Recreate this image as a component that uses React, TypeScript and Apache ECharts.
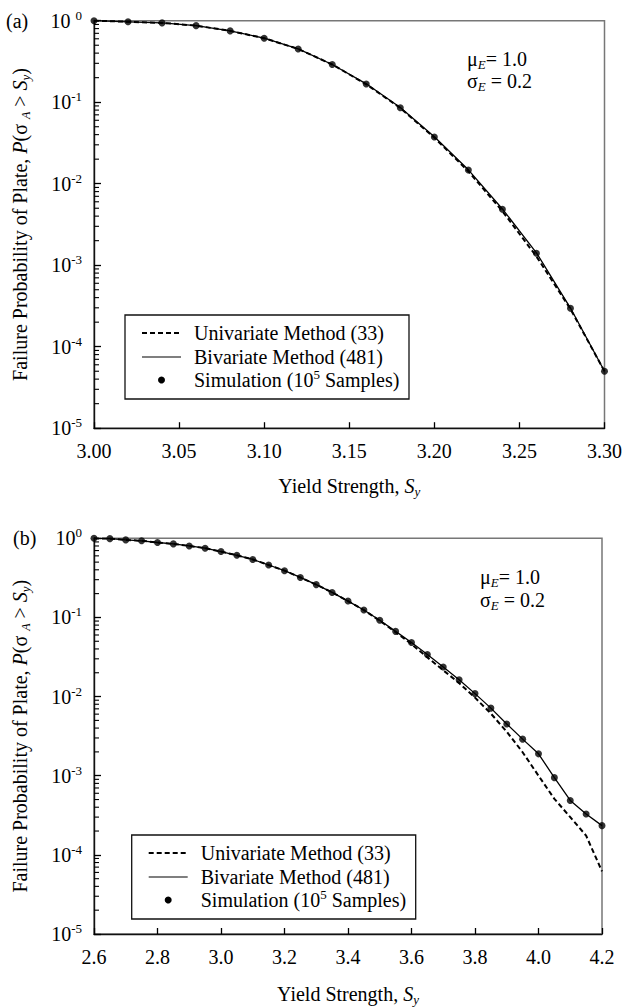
import React, { useEffect, useRef } from "react";
import * as echarts from "echarts";

const FONT = "Liberation Serif";

// Panel (a)
const xTop = [3.0, 3.02, 3.04, 3.06, 3.08, 3.1, 3.12, 3.14, 3.16, 3.18, 3.2, 3.22, 3.24, 3.26, 3.28, 3.3];
const simTop = [1.0, 0.97, 0.94, 0.87, 0.75, 0.61, 0.45, 0.29, 0.167, 0.0857, 0.0374, 0.0147, 0.00486, 0.0014, 0.000296, 0.00005];
const bivTop = [1.0, 0.97, 0.94, 0.87, 0.75, 0.61, 0.45, 0.29, 0.168, 0.086, 0.0376, 0.0148, 0.0049, 0.00142, 0.000298, 0.00005];
const uniTop = [1.0, 0.97, 0.94, 0.87, 0.75, 0.61, 0.45, 0.29, 0.166, 0.085, 0.0368, 0.0142, 0.0046, 0.00128, 0.00029, 0.00005];

// Panel (b)
const xBot = [2.6, 2.65, 2.7, 2.75, 2.8, 2.85, 2.9, 2.95, 3.0, 3.05, 3.1, 3.15, 3.2, 3.25, 3.3, 3.35, 3.4, 3.45, 3.5, 3.55, 3.6, 3.65, 3.7, 3.75, 3.8, 3.85, 3.9, 3.95, 4.0, 4.05, 4.1, 4.15, 4.2];
const simBot = [1.0, 0.99, 0.955, 0.93, 0.885, 0.85, 0.8, 0.75, 0.68, 0.61, 0.54, 0.46, 0.39, 0.32, 0.26, 0.207, 0.161, 0.124, 0.092, 0.0667, 0.0482, 0.034, 0.0236, 0.0163, 0.0109, 0.00715, 0.00451, 0.0029, 0.00189, 0.000946, 0.000487, 0.000328, 0.000234];
const bivBot = [1.0, 0.99, 0.955, 0.93, 0.885, 0.85, 0.8, 0.75, 0.68, 0.61, 0.54, 0.46, 0.39, 0.32, 0.26, 0.207, 0.161, 0.124, 0.092, 0.0667, 0.0482, 0.034, 0.0236, 0.0163, 0.0109, 0.00715, 0.00451, 0.0029, 0.00189, 0.000946, 0.000487, 0.000328, 0.000234];
const uniBot = [1.0, 0.99, 0.955, 0.93, 0.885, 0.85, 0.8, 0.75, 0.68, 0.61, 0.54, 0.46, 0.39, 0.32, 0.26, 0.207, 0.161, 0.124, 0.091, 0.065, 0.046, 0.0313, 0.0215, 0.0148, 0.0097, 0.0061, 0.0036, 0.00198, 0.001, 0.00051, 0.0003, 0.000175, 0.000062];

const legendLabels = ["Univariate Method (33)", "Bivariate Method (481)", "Simulation (10{sup|5} Samples)"];
const annoLines = ["μ{sub|E}= 1.0", "σ{sub|E} = 0.2"];
const yName = "Failure Probability of Plate, {i|P}(σ {a|A} > {i|S}{sub|y})";
const xName = "Yield Strength, {i|S}{sub|y}";

const minorTickValues: number[] = [];
for (let e = -5; e < 0; e++) {
  for (let m = 2; m <= 9; m++) minorTickValues.push(m * Math.pow(10, e));
}

const richCommon = {
  sup: { fontSize: 13, fontFamily: FONT, verticalAlign: "top", lineHeight: 13, color: "#000" },
  sub: { fontSize: 13, fontFamily: FONT, fontStyle: "italic", verticalAlign: "bottom", lineHeight: 13, color: "#000" },
  i: { fontSize: 20, fontFamily: FONT, fontStyle: "italic", lineHeight: 24, color: "#000" },
  a: { fontSize: 12, fontFamily: FONT, fontStyle: "italic", verticalAlign: "bottom", lineHeight: 16, color: "#000" },
};

function zip(xs: number[], ys: number[]) {
  return xs.map((x, i) => [x, ys[i]]);
}

function makeLegend(left: number, top: number) {
  const w = 284;
  const h = 84;
  const rows = [top + 18, top + 42, top + 65];
  const lx1 = left + 17;
  const lx2 = left + 56;
  const tx = left + 69;
  return {
    type: "group",
    children: [
      { type: "rect", shape: { x: left, y: top, width: w, height: h }, style: { fill: "#fff", stroke: "#111", lineWidth: 1.3 }, z: 10 },
      { type: "line", shape: { x1: lx1, y1: rows[0], x2: lx2, y2: rows[0] }, style: { stroke: "#000", lineWidth: 2, lineDash: [5, 3] }, z: 11 },
      { type: "line", shape: { x1: lx1, y1: rows[1], x2: lx2, y2: rows[1] }, style: { stroke: "#000", lineWidth: 1.2 }, z: 11 },
      { type: "circle", shape: { cx: (lx1 + lx2) / 2, cy: rows[2], r: 3.5 }, style: { fill: "#000" }, z: 11 },
      ...legendLabels.map((t, i) => ({
        type: "text",
        x: tx,
        y: rows[i],
        z: 11,
        style: {
          text: t,
          fontFamily: FONT,
          fontSize: 20,
          lineHeight: 24,
          fill: "#000",
          verticalAlign: "middle",
          align: "left",
          rich: { sup: { fontSize: 13, fontFamily: FONT, verticalAlign: "top", lineHeight: 13, fill: "#000" } },
        },
      })),
    ],
  };
}

function makeAnno(left: number, y1: number, y2: number) {
  return annoLines.map((t, i) => ({
    type: "text",
    x: left,
    y: i === 0 ? y1 : y2,
    z: 11,
    style: {
      text: t,
      fontFamily: FONT,
      fontSize: 20,
      lineHeight: 24,
      fill: "#000",
      verticalAlign: "middle",
      align: "left",
      rich: { sub: { fontSize: 13, fontFamily: FONT, fontStyle: "italic", verticalAlign: "bottom", lineHeight: 13, fill: "#000" } },
    },
  }));
}

function yAxisDef(gridIndex: number, topPanel: boolean) {
  return {
    type: "log",
    logBase: 10,
    gridIndex,
    min: 1e-5,
    max: 1,
    name: yName,
    nameLocation: "middle",
    nameRotate: 90,
    nameGap: 62,
    nameTextStyle: { fontFamily: FONT, fontSize: 20, color: "#000", lineHeight: 24, rich: richCommon },
    axisLine: { show: true, lineStyle: { color: "#111", width: 1.4 } },
    axisTick: { show: true, inside: true, length: 7, lineStyle: { color: "#000", width: 1.3 } },
    splitLine: { show: false },
    minorTick: { show: false },
    axisLabel: {
      fontFamily: FONT,
      fontSize: 20,
      lineHeight: 24,
      color: "#000",
      margin: 12,
      formatter: (v: number) => {
        const e = Math.round(Math.log10(v));
        if (e === 0 && topPanel) return "10 {sup|0}";
        return "10{sup|" + e + "}";
      },
      rich: richCommon,
    },
  };
}

function xAxisDef(gridIndex: number, min: number, max: number, interval: number, digits: number, gap: number) {
  return {
    type: "value",
    gridIndex,
    min,
    max,
    interval,
    name: xName,
    nameLocation: "middle",
    nameGap: gap,
    nameTextStyle: { fontFamily: FONT, fontSize: 20, color: "#000", lineHeight: 24, rich: richCommon },
    axisLine: { show: true, onZero: false, lineStyle: { color: "#111", width: 1.4 } },
    axisTick: { show: true, inside: true, length: 6, lineStyle: { color: "#000", width: 1.3 } },
    splitLine: { show: false },
    axisLabel: {
      fontFamily: FONT,
      fontSize: 20,
      color: "#000",
      margin: 13,
      formatter: (v: number) => v.toFixed(digits),
    },
  };
}

function minorTickSeries(axisIndex: number, xMin: number) {
  return {
    type: "custom",
    xAxisIndex: axisIndex,
    yAxisIndex: axisIndex,
    silent: true,
    clip: false,
    z: 5,
    data: minorTickValues.map((v) => [xMin, v]),
    renderItem: (_params: any, api: any) => {
      const p = api.coord([api.value(0), api.value(1)]);
      return {
        type: "line",
        shape: { x1: p[0], y1: p[1], x2: p[0] + 5, y2: p[1] },
        style: { stroke: "#000", lineWidth: 1.1 },
      };
    },
  };
}

function lineSeries(axisIndex: number, data: number[][], dashed: boolean) {
  return {
    type: "line",
    xAxisIndex: axisIndex,
    yAxisIndex: axisIndex,
    data,
    showSymbol: false,
    symbol: "none",
    z: dashed ? 3 : 4,
    lineStyle: dashed ? { color: "#000", width: 2, type: [5, 3] } : { color: "#000", width: 1.3 },
  };
}

function scatterSeries(axisIndex: number, data: number[][]) {
  return {
    type: "scatter",
    xAxisIndex: axisIndex,
    yAxisIndex: axisIndex,
    data,
    symbol: "circle",
    symbolSize: 7,
    z: 6,
    itemStyle: { color: "#000" },
  };
}

export default function App() {
  const ref = useRef<HTMLDivElement>(null);
  useEffect(() => {
    if (!ref.current) return;
    const chart = echarts.init(ref.current, null, { renderer: "svg" });
    const option: any = {
      animation: false,
      backgroundColor: "#fff",
      textStyle: { fontFamily: FONT },
      grid: [
        { left: 92, top: 20.7, width: 514, height: 407.5, show: true, borderColor: "#777", borderWidth: 1.5, backgroundColor: "transparent" },
        { left: 89, top: 538.3, width: 513, height: 408.5, show: true, borderColor: "#777", borderWidth: 1.5, backgroundColor: "transparent" },
      ],
      xAxis: [xAxisDef(0, 3.0, 3.3, 0.05, 2, 46), xAxisDef(1, 2.6, 4.2, 0.2, 1, 48)],
      yAxis: [yAxisDef(0, true), yAxisDef(1, false)],
      series: [
        minorTickSeries(0, 3.0),
        lineSeries(0, zip(xTop, uniTop), true),
        lineSeries(0, zip(xTop, bivTop), false),
        scatterSeries(0, zip(xTop, simTop)),
        minorTickSeries(1, 2.6),
        lineSeries(1, zip(xBot, uniBot), true),
        lineSeries(1, zip(xBot, bivBot), false),
        scatterSeries(1, zip(xBot, simBot)),
      ],
      graphic: [
        { type: "text", x: 6, y: 20.7, style: { text: "(a)", fontFamily: FONT, fontSize: 20, fill: "#000", verticalAlign: "middle" } },
        { type: "text", x: 13, y: 538, style: { text: "(b)", fontFamily: FONT, fontSize: 20, fill: "#000", verticalAlign: "middle" } },
        ...makeAnno(467, 59, 81),
        ...makeAnno(480, 577, 600),
        makeLegend(125, 315),
        makeLegend(131.7, 835),
      ],
    };
    chart.setOption(option);
    return () => chart.dispose();
  }, []);
  return (
    <div
      ref={ref}
      style={{ position: "absolute", left: 0, top: 0, width: 625, height: 1007 }}
    />
  );
}
